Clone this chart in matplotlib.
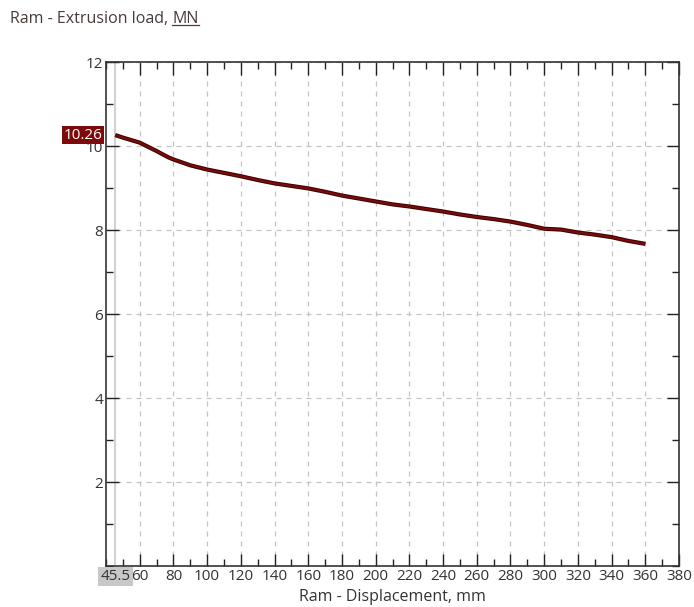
import matplotlib
matplotlib.use("Agg")
import matplotlib.pyplot as plt
from matplotlib.ticker import MultipleLocator, FixedLocator
from matplotlib.lines import Line2D

plt.rcParams['font.family'] = ['Open Sans', 'DejaVu Sans']

# Data
displacement = [45.5, 50, 60, 70, 77, 80, 90, 100, 110, 120, 130, 140, 150, 160,
                170, 180, 190, 200, 210, 220, 230, 240, 250, 260, 270, 280, 290,
                300, 310, 320, 330, 340, 350, 360]
load = [10.26, 10.20, 10.08, 9.88, 9.73, 9.68, 9.54, 9.44, 9.36, 9.28, 9.19, 9.11,
        9.05, 8.99, 8.91, 8.82, 8.75, 8.68, 8.61, 8.56, 8.50, 8.44, 8.37, 8.31,
        8.26, 8.20, 8.12, 8.03, 8.01, 7.94, 7.89, 7.83, 7.74, 7.67]
start_x = 45.5
start_y = 10.26
x_ticks = [60, 80, 100, 120, 140, 160, 180, 200, 220, 240, 260, 280, 300, 320, 340, 360, 380]
y_ticks = [2, 4, 6, 8, 10, 12]

W, H = 694, 607
fig = plt.figure(figsize=(W / 100, H / 100), dpi=100)
L, R, T, B = 106, 679, 62, 566
ax = fig.add_axes([L / W, 1 - B / H, (R - L) / W, (B - T) / H])

ax.set_xlim(40, 380)
ax.set_ylim(0, 12)

ax.xaxis.set_major_locator(FixedLocator(x_ticks))
ax.xaxis.set_minor_locator(MultipleLocator(10))
ax.yaxis.set_major_locator(FixedLocator(y_ticks))
ax.yaxis.set_minor_locator(MultipleLocator(1))

ax.grid(True, which='major', color='#c4c4c4', linestyle=(0, (4, 4)), linewidth=0.9)
ax.tick_params(which='both', direction='in', top=True, right=True, colors='#222222',
               labelsize=11, labelcolor='#333333', pad=2)
ax.tick_params(which='major', length=9, width=1.0)
ax.tick_params(which='minor', length=5, width=1.0)
for s in ax.spines.values():
    s.set_color('#333333')
    s.set_linewidth(1.2)

ax.axvline(start_x, color='#c8c8c8', linewidth=1.2, zorder=1)

ax.plot(displacement, load, color='#3a0000', linewidth=3.0, zorder=3, solid_capstyle='butt')
ax.plot(displacement, load, color='#7a0b0b', linewidth=1.6, zorder=4, solid_capstyle='butt')

ax.set_xlabel('Ram - Displacement, mm', fontsize=11.5, color='#333333', labelpad=4)

# value badges
ax.text(-0.006, start_y, f'{start_y:.2f}', transform=ax.get_yaxis_transform(),
        ha='right', va='center', fontsize=11, color='white', zorder=10,
        bbox=dict(boxstyle='square,pad=0.12', facecolor='#7d0a0a', edgecolor='none'),
        clip_on=False)
ax.text(start_x, -0.006, f'{start_x:g}', transform=ax.get_xaxis_transform(),
        ha='center', va='top', fontsize=11, color='#333333', zorder=10,
        bbox=dict(boxstyle='square,pad=0.15', facecolor='#c8c8c8', edgecolor='none'),
        clip_on=False)

# title with underlined unit
t1 = fig.text(10 / W, 1 - 19 / H, 'Ram - Extrusion load, ', fontsize=11.5,
              color='#4a3a3a', ha='left', va='center')
fig.canvas.draw()
r = fig.canvas.get_renderer()
bb = t1.get_window_extent(r)
t2 = fig.text(bb.x1 / W, 1 - 19 / H, 'MN', fontsize=11.5, color='#4a3a3a',
              ha='left', va='center')
fig.canvas.draw()
bb2 = t2.get_window_extent(r)
yline = (bb2.y0 + 2) / H
fig.add_artist(Line2D([bb2.x0 / W, bb2.x1 / W], [yline, yline], color='#4a3a3a',
                      linewidth=0.9, transform=fig.transFigure))

fig.savefig('out.png', dpi=100, facecolor='white')
